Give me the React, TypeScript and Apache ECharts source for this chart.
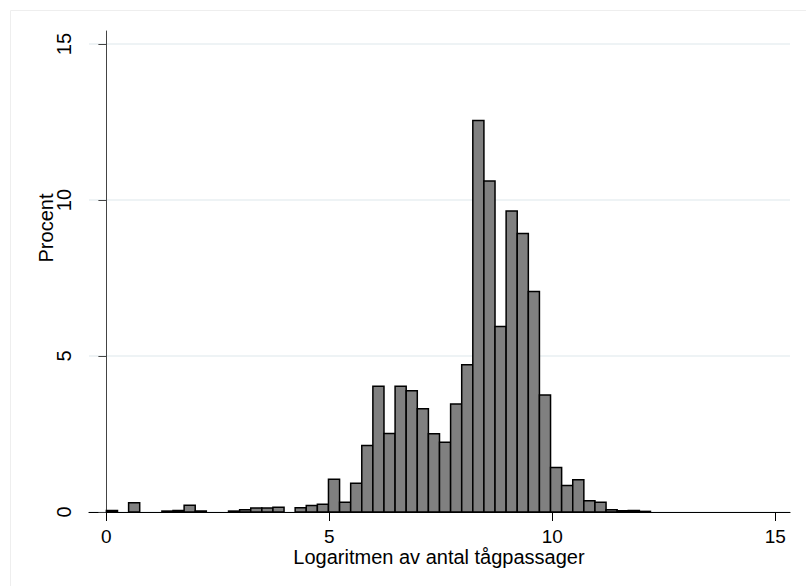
import React, { useEffect, useRef } from "react";
import * as echarts from "echarts";

const binStart = 0;
const binWidth = 0.249;
const percentValues = [
  0.05, 0, 0.3, 0, 0, 0.03, 0.05, 0.22, 0.03, 0,
  0, 0.03, 0.07, 0.13, 0.13, 0.15, 0, 0.14, 0.21, 0.25,
  1.05, 0.31, 0.92, 2.13, 4.03, 2.52, 4.03, 3.89, 3.31, 2.51,
  2.24, 3.46, 4.72, 12.55, 10.61, 5.95, 9.65, 8.93, 7.07, 3.75,
  1.43, 0.85, 1.03, 0.36, 0.31, 0.07, 0.04, 0.05, 0.02,
];
const xTicks = [0, 5, 10, 15];
const yTicks = [0, 5, 10, 15];
const xTitle = "Logaritmen av antal tågpassager";
const yTitle = "Procent";

const fontFamily = "'Liberation Sans', Arial, Helvetica, sans-serif";

export default function App() {
  const ref = useRef<HTMLDivElement>(null);
  useEffect(() => {
    const chart = echarts.init(ref.current!, null, { renderer: "svg" });
    const data = percentValues.map((v, i) => [
      binStart + i * binWidth,
      binStart + (i + 1) * binWidth,
      v,
    ]);
    chart.setOption({
      animation: false,
      backgroundColor: "#ffffff",
      grid: { left: 89, right: 16, top: 31, bottom: 74, containLabel: false },
      xAxis: {
        type: "value",
        min: -0.39,
        max: 15.33,
        axisLine: { show: true, onZero: false, lineStyle: { color: "#000", width: 1.2 } },
        axisTick: { show: true, length: 9, customValues: xTicks, lineStyle: { color: "#000" } },
        axisLabel: { customValues: xTicks, margin: 15, fontSize: 19, color: "#000", fontFamily },
        splitLine: { show: false },
      },
      yAxis: {
        type: "value",
        min: 0,
        max: 15.42,
        axisLine: { show: true, lineStyle: { color: "#444", width: 1 } },
        axisTick: { show: true, length: 8, customValues: yTicks, lineStyle: { color: "#444" } },
        axisLabel: { customValues: yTicks, rotate: 90, margin: 15, fontSize: 20, color: "#000", fontFamily },
        splitLine: { show: true, lineStyle: { color: "#e8eff2", width: 1.5 } },
      },
      series: [
        {
          type: "custom",
          clip: false,
          encode: { x: [0, 1], y: 2 },
          data,
          renderItem: (params: any, api: any) => {
            const v = api.value(2);
            if (!(v > 0)) return null;
            const p0 = api.coord([api.value(0), v]);
            const p1 = api.coord([api.value(1), 0]);
            return {
              type: "rect",
              shape: { x: p0[0], y: p0[1], width: p1[0] - p0[0], height: p1[1] - p0[1] },
              style: { fill: "#808080", stroke: "#000", lineWidth: 1.5 },
            };
          },
        },
      ],
      graphic: [
        {
          type: "rect",
          silent: true,
          z: -10,
          shape: { x: 10.5, y: 10.5, width: 810, height: 600 },
          style: { fill: "none", stroke: "#eeeeee", lineWidth: 1 },
        },
        {
          type: "text",
          x: 439,
          y: 557,
          style: {
            text: xTitle,
            fontSize: 20,
            fontFamily,
            fill: "#000",
            textAlign: "center",
            textVerticalAlign: "middle",
          },
        },
        {
          type: "text",
          x: 46,
          y: 228,
          rotation: Math.PI / 2,
          style: {
            text: yTitle,
            fontSize: 20,
            fontFamily,
            fill: "#000",
            textAlign: "center",
            textVerticalAlign: "middle",
          },
        },
      ],
    });
    return () => chart.dispose();
  }, []);
  return (
    <div
      ref={ref}
      style={{ position: "fixed", left: 0, top: 0, width: 806, height: 586, background: "#fff" }}
    />
  );
}
